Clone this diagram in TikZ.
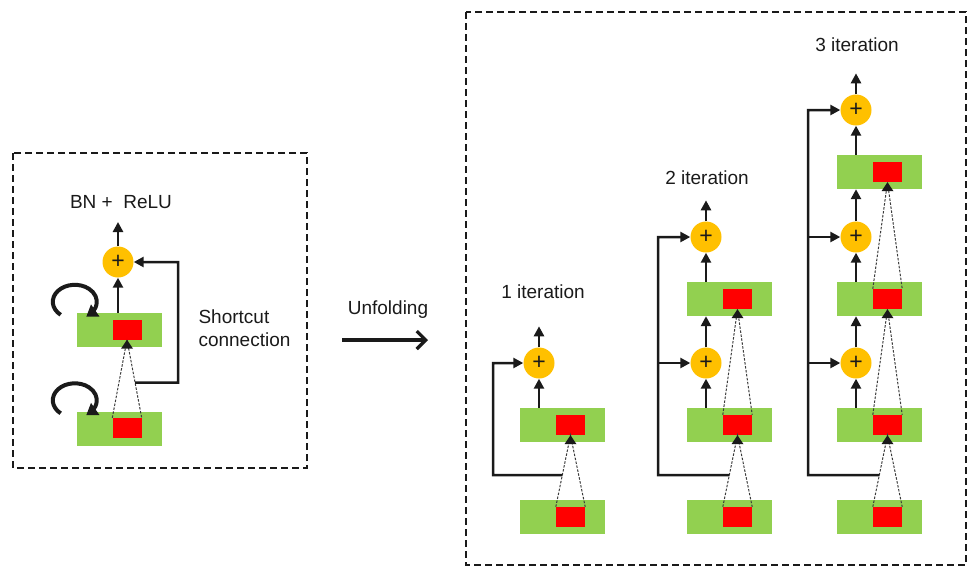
\documentclass[tikz,border=0pt]{standalone}
\usepackage{fontspec}
\setmainfont{Liberation Sans}
\usetikzlibrary{arrows.meta,calc}
\definecolor{cellgreen}{HTML}{92D050}
\definecolor{cellred}{HTML}{FF0000}
\definecolor{sumorange}{HTML}{FFC000}
\definecolor{ink}{HTML}{1A1A1A}
\begin{document}
\begin{tikzpicture}[x=1pt,y=-1pt,
  layer/.style={fill=cellgreen, minimum width=85pt, minimum height=34pt, inner sep=0pt},
  unit/.style={fill=cellred, minimum width=29pt, minimum height=20pt, inner sep=0pt},
  sum/.style={circle, fill=sumorange, minimum size=31pt, inner sep=0pt,
    font=\fontsize{23}{23}\selectfont, text=ink},
  flow/.style={draw=ink, line width=2.5pt, -{Triangle[length=10pt,width=10pt]}},
  recept/.style={draw=ink!85, line width=1pt, dash pattern=on 2.5pt off 1.5pt},
  frame/.style={draw=ink, line width=1.6pt, dash pattern=on 7pt off 4pt},
  caption/.style={font=\fontsize{19}{23}\selectfont, text=ink},
  selfloop/.style={draw=ink, line width=4pt},
  looptip/.style={draw=ink, line width=4pt, -{Triangle[length=11pt,width=14pt]}},
  unfold/.style={draw=ink, line width=3.2pt, -{Straight Barb[length=9pt,width=18pt]}},
  apex/.style={fill=ink}
]
\useasboundingbox (0,0) rectangle (968,568);

% ---------- frames ----------
\draw[frame] (13,153) rectangle (307,468);
\draw[frame] (466,12) rectangle (966,565);

% ---------- recurrent block ----------
\node[layer] (gL0) at (119.5,428.5) {};
\node[layer] (gL1) at (119.5,330) {};
\node[unit]  (rL0) at (127,428) {};
\node[unit]  (rL1) at (127,329.5) {};
\node[sum]   (cL)  at (118,262) {+};
\coordinate  (tL)  at (118,222);
\node[caption] (bn) at (121,202) {BN +\ \ ReLU};
\node[caption, align=left, anchor=west] (sc) at (195,328.5) {Shortcut\\connection};

\draw[recept] (rL0.north west) -- (rL1.south) -- (rL0.north east);
\fill[apex] (rL1.south) -- ++(-6,9) -- ++(12,0) -- cycle;
\draw[flow] (cL |- gL1.north) -- (cL.south);
\draw[flow] (cL.north) -- (tL);
\coordinate (sL) at ($(rL0.north east)!0.45!(rL1.south)$);
\coordinate (vL) at (178,382.5);
\draw[flow] (sL) -- (vL) |- (cL.east);

% self-recurrent loops: an open elliptic arc ending in a short tangent piece with the tip
\foreach \g/\n in {gL0/a,gL1/b}{
  \coordinate (lc\n) at ($(\g.north west)+(-2,-11)$);
  \coordinate (le\n) at ($(lc\n)+(48:22 and 17)$);
  \draw[selfloop] ($(lc\n)+(130:22 and 17)$) arc[start angle=130, end angle=408, x radius=22, y radius=17];
  \draw[looptip] (le\n) -- ++(-3.3,2.3);
}

% ---------- unfolding ----------
\node[caption] (uf) at (388,310) {Unfolding};
\coordinate (ua) at (342,340);
\coordinate (ub) at (428,340);
\draw[unfold] (ua) -- (ub);

% ---------- 1 iteration ----------
\node[layer] (g10) at (562.5,517) {};
\node[layer] (g11) at (562.5,425) {};
\node[unit]  (r10) at (570.5,517) {};
\node[unit]  (r11) at (570.5,425) {};
\node[sum]   (c1a) at (539,363) {+};
\coordinate  (t1)  at ($(c1a.north)+(0,-21)$);
\node[caption] (it1) at (543,292) {1 iteration};

\draw[recept] (r10.north west) -- (r11.south) -- (r10.north east);
\fill[apex] (r11.south) -- ++(-6,9) -- ++(12,0) -- cycle;
\draw[flow] (c1a |- g11.north) -- (c1a.south);
\draw[flow] (c1a.north) -- (t1);
\coordinate (s1) at ($(r10.north west)!0.444!(r11.south)$);
\coordinate (v1) at (493,475);
\draw[flow] (s1) -- (v1) |- (c1a.west);

% ---------- 2 iteration ----------
\node[layer] (g20) at (729.5,517) {};
\node[layer] (g21) at (729.5,425) {};
\node[layer] (g22) at (729.5,299) {};
\node[unit]  (r20) at (737.5,517) {};
\node[unit]  (r21) at (737.5,425) {};
\node[unit]  (r22) at (737.5,299) {};
\node[sum]   (c2a) at (706,363) {+};
\node[sum]   (c2b) at (706,237) {+};
\coordinate  (t2)  at ($(c2b.north)+(0,-21)$);
\node[caption] (it2) at (707,178) {2 iteration};

\draw[recept] (r20.north west) -- (r21.south) -- (r20.north east);
\draw[recept] (r21.north west) -- (r22.south) -- (r21.north east);
\fill[apex] (r21.south) -- ++(-6,9) -- ++(12,0) -- cycle;
\fill[apex] (r22.south) -- ++(-6,9) -- ++(12,0) -- cycle;
\draw[flow] (c2a |- g21.north) -- (c2a.south);
\draw[flow] (c2a.north) -- (c2a |- g22.south);
\draw[flow] (c2b |- g22.north) -- (c2b.south);
\draw[flow] (c2b.north) -- (t2);
\coordinate (s2) at ($(r20.north west)!0.444!(r21.south)$);
\coordinate (v2) at (658,475);
\draw[flow] (s2) -- (v2) |- (c2b.west);
\draw[flow] (v2 |- c2a.west) -- (c2a.west);

% ---------- 3 iteration ----------
\node[layer] (g30) at (879.5,517) {};
\node[layer] (g31) at (879.5,425) {};
\node[layer] (g32) at (879.5,299) {};
\node[layer] (g33) at (879.5,172) {};
\node[unit]  (r30) at (887.5,517) {};
\node[unit]  (r31) at (887.5,425) {};
\node[unit]  (r32) at (887.5,299) {};
\node[unit]  (r33) at (887.5,172) {};
\node[sum]   (c3a) at (856,363) {+};
\node[sum]   (c3b) at (856,237) {+};
\node[sum]   (c3c) at (856,110) {+};
\coordinate  (t3)  at ($(c3c.north)+(0,-21)$);
\node[caption] (it3) at (857,45) {3 iteration};

\draw[recept] (r30.north west) -- (r31.south) -- (r30.north east);
\draw[recept] (r31.north west) -- (r32.south) -- (r31.north east);
\draw[recept] (r32.north west) -- (r33.south) -- (r32.north east);
\fill[apex] (r31.south) -- ++(-6,9) -- ++(12,0) -- cycle;
\fill[apex] (r32.south) -- ++(-6,9) -- ++(12,0) -- cycle;
\fill[apex] (r33.south) -- ++(-6,9) -- ++(12,0) -- cycle;
\draw[flow] (c3a |- g31.north) -- (c3a.south);
\draw[flow] (c3a.north) -- (c3a |- g32.south);
\draw[flow] (c3b |- g32.north) -- (c3b.south);
\draw[flow] (c3b.north) -- (c3b |- g33.south);
\draw[flow] (c3c |- g33.north) -- (c3c.south);
\draw[flow] (c3c.north) -- (t3);
\coordinate (s3) at ($(r30.north west)!0.444!(r31.south)$);
\coordinate (v3) at (808,475);
\draw[flow] (s3) -- (v3) |- (c3c.west);
\draw[flow] (v3 |- c3a.west) -- (c3a.west);
\draw[flow] (v3 |- c3b.west) -- (c3b.west);
\end{tikzpicture}
\end{document}
